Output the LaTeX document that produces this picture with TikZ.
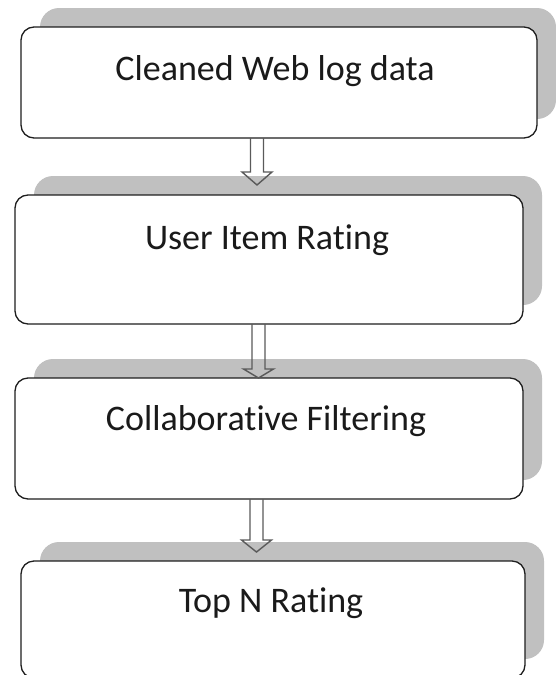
\documentclass[tikz,border=0pt]{standalone}
\usepackage{fontspec}
\setmainfont{Carlito}[Ligatures=NoCommon]
\usetikzlibrary{calc,backgrounds}
\definecolor{shadowgray}{HTML}{C0C0C0}
\definecolor{edgecol}{HTML}{1E1E1E}
\definecolor{arrowgray}{HTML}{5A5A5A}
\definecolor{txtcol}{HTML}{1A1A1A}
\begin{document}
\begin{tikzpicture}[x=1pt,y=-1pt,
  stepbox/.style={draw=edgecol, line width=1.3pt, fill=white, rounded corners=13pt,
    inner sep=0pt, outer sep=0pt},
  shadowbox/.style={fill=shadowgray, rounded corners=19pt},
  lbl/.style={anchor=base, inner sep=0pt, text=txtcol, font=\fontsize{36}{40}\selectfont},
  hollow/.style={draw=arrowgray, line width=1.4pt, line join=miter}]
\useasboundingbox (0,0) rectangle (555,675);

% boxes
\node[stepbox, minimum width=516pt, minimum height=111pt] (b1) at (279,82.5) {};
\node[stepbox, minimum width=508pt, minimum height=129pt] (b2) at (269,259.5) {};
\node[stepbox, minimum width=508pt, minimum height=121pt] (b3) at (269,438.5) {};
\node[stepbox, minimum width=504pt, minimum height=117pt] (b4) at (273,619.5) {};

% shadows
\begin{pgfonlayer}{background}
\fill[white] (0,0) rectangle (555,675);
\foreach \b in {b1,b2,b3,b4}{
  \fill[shadowbox] ($(\b.south west)+(19,-19)$) rectangle ($(\b.north east)+(19,-19)$);
}
\end{pgfonlayer}

% labels
\node[lbl] (t1) at (275,80) {Cleaned Web log data};
\node[lbl] (t2) at (267,249) {User Item Rating};
\node[lbl] (t3) at (266,430) {Collaborative Filtering};
\node[lbl] (t4) at (271,612) {Top N Rating};

% arrow anchors
\coordinate (s1) at ($(b1.south)+(-22,0)$);
\coordinate (h1) at ($(s1)+(0,34)$);
\coordinate (e1) at ($(s1)+(0,47)$);
\coordinate (s2) at ($(b2.south)+(-10.5,0)$);
\coordinate (h2) at ($(s2)+(0,45)$);
\coordinate (e2) at ($(s2)+(0,54)$);
\coordinate (s3) at ($(b3.south)+(-12.5,0)$);
\coordinate (h3) at ($(s3)+(0,41)$);
\coordinate (e3) at ($(s3)+(0,53)$);

\foreach \i in {1,2,3}{
  \draw[hollow] ($(s\i)+(-6.5,0)$) -- ($(h\i)+(-6.5,0)$) -- ($(h\i)+(-15,0)$) -- (e\i)
    -- ($(h\i)+(15,0)$) -- ($(h\i)+(6.5,0)$) -- ($(s\i)+(6.5,0)$);
}
\end{tikzpicture}
\end{document}
